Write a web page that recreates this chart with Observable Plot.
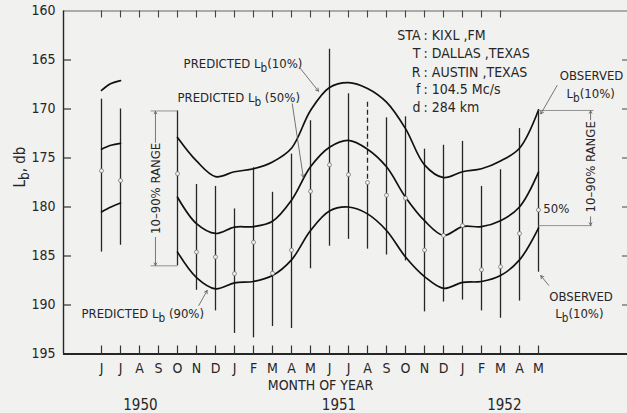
<!DOCTYPE html>
<html>
<head>
<meta charset="utf-8">
<script src="https://cdn.jsdelivr.net/npm/d3@7"></script>
<script src="https://cdn.jsdelivr.net/npm/@observablehq/plot@0.6"></script>
<style>
  body { margin: 0; background: #f1f1f0; }
  #chart svg { display: block; }
</style>
</head>
<body>
<div id="chart"></div>
<script>
// Month-of-year labels, index 0 = June 1950 ... index 23 = May 1952
const monthLabels = ["J","J","A","S","O","N","D","J","F","M","A","M","J","J","A","S","O","N","D","J","F","M","A","M"];
const years = ["1950", "1951", "1952"];
const yearCentres = [2.05, 12.5, 21.2];

// Observed monthly distributions of basic transmission loss (db)
const obsMonth  = [0, 1, 4, 5, 6, 7, 8, 9, 10, 11, 12, 13, 14, 15, 16, 17, 18, 19, 20, 21, 22, 23];
const obsTop    = [169.0, 170.0, 170.2, 177.7, 177.9, 180.2, 176.0, 178.5, 174.6, 171.2, 163.9, 168.45, 169.3, 170.9, 170.8, 174.1, 173.7, 173.3, 177.9, 176.2, 172.0, 170.1];
const obsMedian = [176.3, 177.3, 176.6, 184.6, 185.1, 186.8, 183.6, 186.75, 184.4, 178.4, 175.7, 176.7, 177.5, 178.8, 179.1, 184.4, 182.9, 181.9, 186.4, 186.1, 182.7, 180.3];
const obsBottom = [184.6, 183.9, 186.0, 188.5, 190.6, 192.9, 193.35, 192.2, 192.4, 186.3, 184.0, 183.3, 184.3, 184.9, 185.5, 190.7, 189.7, 189.5, 190.6, 191.35, 189.6, 186.65];
const dashedMonth = 14;

// Predicted basic transmission loss, Oct 1950 - May 1952
const predMonth = [4, 5, 6, 7, 8, 9, 10, 11, 12, 13, 14, 15, 16, 17, 18, 19, 20, 21, 22, 23];
const pred10 = [172.9, 175.3, 176.9, 176.4, 176.1, 175.4, 174.0, 170.15, 167.8, 167.3, 167.9, 169.3, 172.0, 175.7, 177.0, 176.4, 176.1, 175.3, 174.0, 170.1];
const pred50 = [179.0, 181.7, 182.7, 182.05, 182.0, 181.45, 179.3, 175.9, 173.9, 173.2, 174.1, 175.9, 179.0, 181.4, 182.9, 182.0, 182.0, 181.4, 180.0, 176.45];
const pred90 = [184.6, 187.2, 188.35, 187.75, 187.6, 187.0, 185.4, 182.4, 180.4, 180.0, 180.7, 182.4, 185.1, 187.1, 188.3, 187.7, 187.6, 187.0, 185.4, 182.15];

// Short predicted arcs over June - July 1950
const earlyMonth = [0, 0.5, 1];
const early10 = [168.1, 167.4, 167.1];
const early50 = [174.1, 173.7, 173.5];
const early90 = [180.5, 180.0, 179.6];

// Path details
const stationKeys = ["STA", "T", "R", "f", "d"];
const stationValues = [": KIXL ,FM", ": DALLAS ,TEXAS", ": AUSTIN ,TEXAS", ": 104.5 Mc/s", ": 284 km"];

const yTicks = [160, 165, 170, 175, 180, 185, 190, 195];
const innerTicks = [165, 170, 175, 180, 185, 190];
const topTickMonths = d3.range(22);
const bottomTickMonths = d3.range(24);

// ---- scale extents and tables built from the arrays above ----
const xDomain = [-2, 27.684], xRange = [63, 627];
const yDomain = [160, 195], yRange = [10.5, 353.5];
const dbPerPx = (yDomain[1] - yDomain[0]) / (yRange[1] - yRange[0]);
const monthPerPx = (xDomain[1] - xDomain[0]) / (xRange[1] - xRange[0]);

const bars = obsMonth.map((m, i) => ({month: m, top: obsTop[i], median: obsMedian[i], bottom: obsBottom[i]}));
const curves = [];
predMonth.forEach((m, i) => {
  curves.push({month: m, loss: pred10[i], key: "p10"});
  curves.push({month: m, loss: pred50[i], key: "p50"});
  curves.push({month: m, loss: pred90[i], key: "p90"});
});
earlyMonth.forEach((m, i) => {
  curves.push({month: m, loss: early10[i], key: "e10"});
  curves.push({month: m, loss: early50[i], key: "e50"});
  curves.push({month: m, loss: early90[i], key: "e90"});
});

// Label placements (month index, db)
const labelsStart = [
  {text: "PREDICTED L_b(10%)", x: 4.32, y: 165.36},
  {text: "PREDICTED L_b (50%)", x: 4.0, y: 168.83},
  {text: "PREDICTED L_b (90%)", x: -1.05, y: 190.87},
  {text: "50%", x: 23.25, y: 180.18}
];
const labelsMiddle = [
  {text: "OBSERVED", x: 25.79, y: 166.58},
  {text: "L_b(10%)", x: 25.75, y: 168.45},
  {text: "OBSERVED", x: 25.24, y: 189.2},
  {text: "L_b(10%)", x: 25.15, y: 190.9}
];
const pointers = [
  {x1: 10.47, y1: 165.87, x2: 11.42, y2: 168.18},
  {x1: 10.04, y1: 169.47, x2: 10.62, y2: 176.96},
  {x1: 5.12, y1: 190.05, x2: 5.56, y2: 188.52},
  {x1: 23.98, y1: 167.6, x2: 23.12, y2: 170.5},
  {x1: 23.54, y1: 188.0, x2: 23.12, y2: 187.0}
];
// 10-90% range brackets
const bracketLines = [
  {x1: 2.58, x2: 4.0, y: 170.2}, {x1: 2.58, x2: 4.0, y: 186.0},
  {x1: 23.0, x2: 25.9, y: 170.15}, {x1: 23.0, x2: 25.8, y: 181.9}
];
const bracketArrows = [
  {x: 2.84, y1: 173.4, y2: 170.25}, {x: 2.84, y1: 183.1, y2: 185.95},
  {x: 25.74, y1: 171.1, y2: 170.2}, {x: 25.74, y1: 181.0, y2: 181.85}
];
const bracketText = [{x: 2.84, y: 178.1}, {x: 25.74, y: 175.9}];
const stationY = [162.5, 164.37, 166.24, 168.04, 169.88];

const ink = "#262626";
const font = "'Liberation Sans Narrow', 'DejaVu Sans Condensed', sans-serif";

const chart = Plot.plot({
  width: 627,
  height: 413,
  marginLeft: 63,
  marginRight: 0,
  marginTop: 10.5,
  marginBottom: 59.5,
  style: {background: "#f1f1f0", color: ink, fontFamily: font, fontSize: "13px"},
  x: {domain: xDomain, range: xRange},
  y: {domain: yDomain, range: yRange},
  marks: [
    // frame
    Plot.ruleY([yDomain[0]], {stroke: "#555", strokeWidth: 0.9}),
    Plot.ruleY([yDomain[1]], {stroke: ink, strokeWidth: 2}),
    Plot.ruleX([xDomain[0]], {stroke: ink, strokeWidth: 1.4}),

    // short tick marks pointing into the frame on all four sides
    Plot.ruleX(bottomTickMonths, {x: d => d, y1: () => yDomain[1], y2: () => yDomain[1] - 8 * dbPerPx, stroke: "#333", strokeWidth: 1.2}),
    Plot.ruleX(topTickMonths, {x: d => d, y1: () => yDomain[0], y2: () => yDomain[0] + 7 * dbPerPx, stroke: "#444", strokeWidth: 1.1}),
    Plot.ruleY(innerTicks, {y: d => d, x1: () => xDomain[0], x2: () => xDomain[0] + 8 * monthPerPx, stroke: "#333", strokeWidth: 1.2}),
    Plot.ruleY(innerTicks, {y: d => d, x1: () => xDomain[1] - 5 * monthPerPx, x2: () => xDomain[1], stroke: "#555", strokeWidth: 1.1}),

    // tick labels
    Plot.axisY({ticks: yTicks, tickSize: 0, tickPadding: 8, fontSize: 14, label: null}),
    Plot.axisX({ticks: bottomTickMonths, tickSize: 0, tickPadding: 9, tickFormat: i => monthLabels[i], fontSize: 14, label: null}),

    // observed 10-90% ranges
    Plot.ruleX(bars.filter(d => d.month !== dashedMonth), {x: "month", y1: "top", y2: "bottom", stroke: ink, strokeWidth: 1.3}),
    Plot.ruleX(bars.filter(d => d.month === dashedMonth), {x: "month", y1: "top", y2: "median", stroke: ink, strokeWidth: 1.3, strokeDasharray: "5,3"}),
    Plot.ruleX(bars.filter(d => d.month === dashedMonth), {x: "month", y1: "median", y2: "bottom", stroke: ink, strokeWidth: 1.3}),

    // predicted curves
    Plot.line(curves, {x: "month", y: "loss", z: "key", curve: "catmull-rom", stroke: "#111", strokeWidth: 1.7}),

    // observed medians
    Plot.dot(bars, {x: "month", y: "median", r: 2, fill: "#f1f1f0", stroke: "#777", strokeWidth: 0.8}),

    // brackets
    Plot.link(bracketLines, {x1: "x1", x2: "x2", y1: "y", y2: "y", stroke: "#888", strokeWidth: 0.9}),
    Plot.arrow(bracketArrows, {x1: "x", x2: "x", y1: "y1", y2: "y2", stroke: "#555", strokeWidth: 0.8, headLength: 5}),
    Plot.text(bracketText, {x: "x", y: "y", text: () => "10\u201390% RANGE", rotate: -90, fontSize: 13}),

    // annotations
    Plot.text(labelsStart, {x: "x", y: "y", text: "text", textAnchor: "start", fontSize: 13}),
    Plot.text(labelsMiddle, {x: "x", y: "y", text: "text", textAnchor: "middle", fontSize: 13}),
    Plot.arrow(pointers, {x1: "x1", y1: "y1", x2: "x2", y2: "y2", stroke: "#555", strokeWidth: 0.8, headLength: 6}),

    // path details
    Plot.text(stationKeys, {x: () => 16.79, y: (d, i) => stationY[i], text: d => d, textAnchor: "end", fontSize: 14}),
    Plot.text(stationValues, {x: () => 16.95, y: (d, i) => stationY[i], text: d => d, textAnchor: "start", fontSize: 14}),

    // axis titles
    Plot.text(["L_b, db"], {frameAnchor: "left", lineAnchor: "middle", dx: -43, dy: 5, rotate: -90, fontSize: 15}),
    Plot.text(["MONTH OF YEAR"], {x: () => 11.53, frameAnchor: "bottom", lineAnchor: "middle", dy: 31.5, fontSize: 14}),
    Plot.text(years, {x: (d, i) => yearCentres[i], frameAnchor: "bottom", lineAnchor: "middle", dy: 51.5, fontSize: 15})
  ]
});

// Render "L_b" with a subscript b
const SVGNS = "http://www.w3.org/2000/svg";
chart.querySelectorAll("text").forEach(t => {
  const s = t.textContent;
  const k = s.indexOf("L_b");
  if (k < 0 || t.children.length) return;
  t.textContent = "";
  const a = document.createElementNS(SVGNS, "tspan");
  a.textContent = s.slice(0, k + 1);
  const b = document.createElementNS(SVGNS, "tspan");
  b.textContent = "b";
  b.setAttribute("dy", "4");
  b.setAttribute("font-size", "0.9em");
  const c = document.createElementNS(SVGNS, "tspan");
  c.textContent = s.slice(k + 3);
  c.setAttribute("dy", "-4");
  t.append(a, b, c);
});

document.getElementById("chart").append(chart);
</script>
</body>
</html>
